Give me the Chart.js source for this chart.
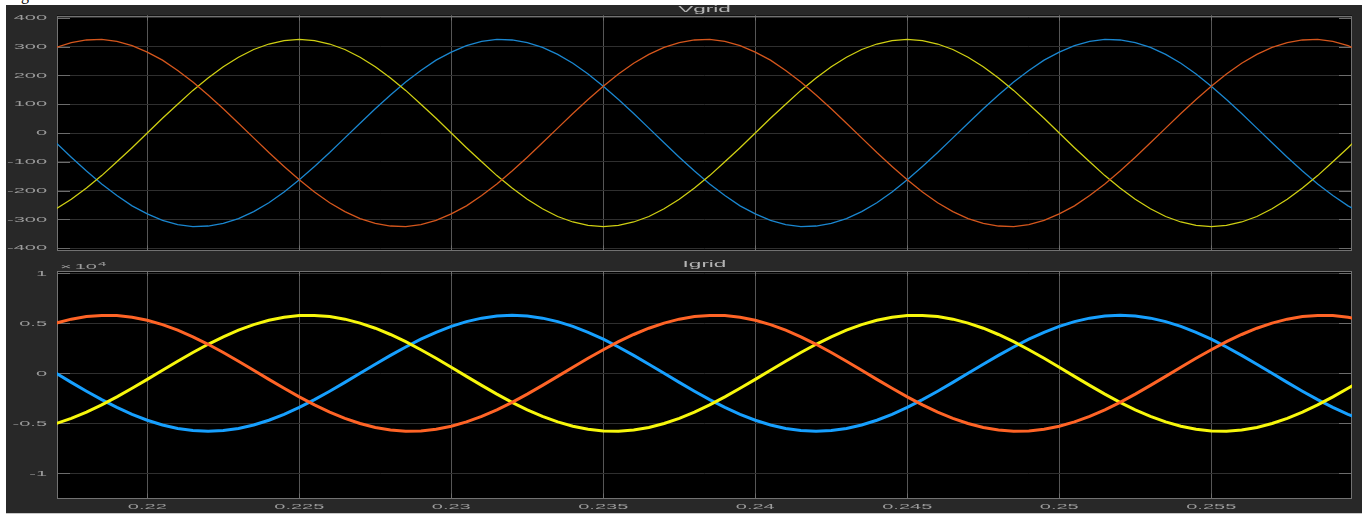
<!DOCTYPE html>
<html>
<head>
<meta charset="utf-8">
<script src="https://cdn.jsdelivr.net/npm/chart.js@4.4.0/dist/chart.umd.min.js"></script>
<style>
  html, body { margin: 0; padding: 0; background: #fff; width: 1362px; height: 517px; overflow: hidden; position: relative; }
  #cap { position: absolute; left: 21px; top: -14px; font: 16px "Liberation Serif", serif; color: #000; }
  #frame { position: absolute; left: 6px; top: 5px; width: 1356px; height: 508px; background: #282828; border-bottom: 1px solid #c8c8c8; }
  canvas { position: absolute; left: 0; }
  #cv { top: 0; }
  #ci { top: 258px; }
</style>
</head>
<body>
<div id="cap">g</div>
<div id="frame"></div>
<canvas id="cv" width="1362" height="258"></canvas>
<canvas id="ci" width="1362" height="259"></canvas>
<script>
// Sample times (s)
const tSec = [
  0.2170, 0.2175, 0.2180, 0.2185, 0.2190, 0.2195, 0.2200, 0.2205, 0.2210, 0.2215,
  0.2220, 0.2225, 0.2230, 0.2235, 0.2240, 0.2245, 0.2250, 0.2255, 0.2260, 0.2265,
  0.2270, 0.2275, 0.2280, 0.2285, 0.2290, 0.2295, 0.2300, 0.2305, 0.2310, 0.2315,
  0.2320, 0.2325, 0.2330, 0.2335, 0.2340, 0.2345, 0.2350, 0.2355, 0.2360, 0.2365,
  0.2370, 0.2375, 0.2380, 0.2385, 0.2390, 0.2395, 0.2400, 0.2405, 0.2410, 0.2415,
  0.2420, 0.2425, 0.2430, 0.2435, 0.2440, 0.2445, 0.2450, 0.2455, 0.2460, 0.2465,
  0.2470, 0.2475, 0.2480, 0.2485, 0.2490, 0.2495, 0.2500, 0.2505, 0.2510, 0.2515,
  0.2520, 0.2525, 0.2530, 0.2535, 0.2540, 0.2545, 0.2550, 0.2555, 0.2560, 0.2565,
  0.2570, 0.2575, 0.2580, 0.2585, 0.2590, 0.2595, 0.2600
];

// Grid voltages (V)
const vPhaseA = [
  297, 314, 323, 325, 318, 303, 281, 253, 217, 177, 132, 84, 34, -17, -68, -116, -162, -205, -242, -273,
  -297, -314, -323, -325, -318, -303, -281, -253, -217, -177, -132, -84, -34, 17, 68, 116, 162, 205, 242, 273,
  297, 314, 323, 325, 318, 303, 281, 253, 217, 177, 132, 84, 34, -17, -68, -116, -162, -205, -242, -273,
  -297, -314, -323, -325, -318, -303, -281, -253, -217, -177, -132, -84, -34, 17, 68, 116, 162, 205, 242, 273,
  297, 314, 323, 325, 318, 303, 281
];
const vPhaseB = [
  -263, -230, -191, -148, -100, -51, 0, 51, 100, 148, 191, 230, 263, 290, 309, 321, 325, 321, 309, 290,
  263, 230, 191, 148, 100, 51, 0, -51, -100, -148, -191, -230, -263, -290, -309, -321, -325, -321, -309, -290,
  -263, -230, -191, -148, -100, -51, 0, 51, 100, 148, 191, 230, 263, 290, 309, 321, 325, 321, 309, 290,
  263, 230, 191, 148, 100, 51, 0, -51, -100, -148, -191, -230, -263, -290, -309, -321, -325, -321, -309, -290,
  -263, -230, -191, -148, -100, -51, 0
];
const vPhaseC = [
  -34, -84, -132, -177, -217, -253, -281, -303, -318, -325, -323, -314, -297, -273, -242, -205, -162, -116, -68, -17,
  34, 84, 132, 177, 217, 253, 281, 303, 318, 325, 323, 314, 297, 273, 242, 205, 162, 116, 68, 17,
  -34, -84, -132, -177, -217, -253, -281, -303, -318, -325, -323, -314, -297, -273, -242, -205, -162, -116, -68, -17,
  34, 84, 132, 177, 217, 253, 281, 303, 318, 325, 323, 314, 297, 273, 242, 205, 162, 116, 68, 17,
  -34, -84, -132, -177, -217, -253, -281
];

// Grid currents (A)
const iPhaseA = [
  5023, 5415, 5673, 5792, 5768, 5602, 5299, 4864, 4310, 3650, 2900, 2079, 1206, 304, -606, -1501, -2359, -3159, -3881, -4507,
  -5023, -5415, -5673, -5792, -5768, -5602, -5299, -4864, -4310, -3650, -2900, -2079, -1206, -304, 606, 1501, 2359, 3159, 3881, 4507,
  5023, 5415, 5673, 5792, 5768, 5602, 5299, 4864, 4310, 3650, 2900, 2079, 1206, 304, -606, -1501, -2359, -3159, -3881, -4507,
  -5023, -5415, -5673, -5792, -5768, -5602, -5299, -4864, -4310, -3650, -2900, -2079, -1206, -304, 606, 1501, 2359, 3159, 3881, 4507,
  5023, 5415, 5673, 5792, 5768, 5602, 5299
];
const iPhaseB = [
  -5023, -4507, -3881, -3159, -2359, -1501, -606, 304, 1206, 2079, 2900, 3650, 4310, 4864, 5299, 5602, 5768, 5792, 5673, 5415,
  5023, 4507, 3881, 3159, 2359, 1501, 606, -304, -1206, -2079, -2900, -3650, -4310, -4864, -5299, -5602, -5768, -5792, -5673, -5415,
  -5023, -4507, -3881, -3159, -2359, -1501, -606, 304, 1206, 2079, 2900, 3650, 4310, 4864, 5299, 5602, 5768, 5792, 5673, 5415,
  5023, 4507, 3881, 3159, 2359, 1501, 606, -304, -1206, -2079, -2900, -3650, -4310, -4864, -5299, -5602, -5768, -5792, -5673, -5415,
  -5023, -4507, -3881, -3159, -2359, -1501, -606
];
const iPhaseC = [
  0, -907, -1792, -2633, -3409, -4101, -4692, -5168, -5516, -5729, -5800, -5729, -5516, -5168, -4692, -4101, -3409, -2633, -1792, -907,
  0, 907, 1792, 2633, 3409, 4101, 4692, 5168, 5516, 5729, 5800, 5729, 5516, 5168, 4692, 4101, 3409, 2633, 1792, 907,
  0, -907, -1792, -2633, -3409, -4101, -4692, -5168, -5516, -5729, -5800, -5729, -5516, -5168, -4692, -4101, -3409, -2633, -1792, -907,
  0, 907, 1792, 2633, 3409, 4101, 4692, 5168, 5516, 5729, 5800, 5729, 5516, 5168, 4692, 4101, 3409, 2633, 1792, 907,
  0, -907, -1792, -2633, -3409, -4101, -4692
];

// Axis ticks and their labels
const xTickValues = [0.22, 0.225, 0.23, 0.235, 0.24, 0.245, 0.25, 0.255];
const xTickLabels = ['0.22', '0.225', '0.23', '0.235', '0.24', '0.245', '0.25', '0.255'];
const vTickValues = [400, 300, 200, 100, 0, -100, -200, -300, -400];
const vTickLabels = ['400', '300', '200', '100', '0', '-100', '-200', '-300', '-400'];
const iTickValues = [10000, 5000, 0, -5000, -10000];
const iTickLabels = ['1', '0.5', '0', '-0.5', '-1'];

// Scope-style text is drawn horizontally stretched
const TEXT_SX = 2.5;
const FONT = '"Liberation Sans", Arial, sans-serif';

function stretchText(ctx, str, x, y, align, size, color) {
  ctx.save();
  ctx.font = size + 'px ' + FONT;
  ctx.fillStyle = color;
  ctx.textAlign = align;
  ctx.textBaseline = 'middle';
  ctx.translate(x, y);
  ctx.scale(TEXT_SX, 1);
  ctx.fillText(str, 0, 0);
  ctx.restore();
}
function textWidth(ctx, str, size) {
  ctx.save();
  ctx.font = size + 'px ' + FONT;
  const w = ctx.measureText(str).width * TEXT_SX;
  ctx.restore();
  return w;
}

// Black plot box, inner tick marks, title and tick labels
const scopeAxes = {
  id: 'scopeAxes',
  beforeDraw(chart) {
    const a = chart.chartArea, ctx = chart.ctx;
    ctx.save();
    ctx.fillStyle = '#000';
    ctx.fillRect(a.left, a.top, a.right - a.left, a.bottom - a.top);
    ctx.restore();
  },
  beforeDatasetsDraw(chart) {
    const a = chart.chartArea, ctx = chart.ctx;
    const xs = chart.scales.x, ys = chart.scales.y;
    ctx.save();
    ctx.strokeStyle = '#6c6c6c';
    ctx.lineWidth = 1;
    ctx.beginPath();
    ys.ticks.forEach(t => {
      const y = Math.round(ys.getPixelForValue(t.value)) + 0.5;
      ctx.moveTo(a.left, y); ctx.lineTo(a.left + 13, y);
      ctx.moveTo(a.right - 13, y); ctx.lineTo(a.right, y);
    });
    xs.ticks.forEach(t => {
      const x = Math.round(xs.getPixelForValue(t.value)) + 0.5;
      ctx.moveTo(x, a.bottom); ctx.lineTo(x, a.bottom - 5);
      ctx.moveTo(x, a.top); ctx.lineTo(x, a.top + 5);
    });
    ctx.stroke();
    ctx.strokeStyle = '#727272';
    ctx.strokeRect(Math.round(a.left) + 0.5, Math.round(a.top) + 0.5,
                   Math.round(a.right - a.left) - 1, Math.round(a.bottom - a.top) - 1);
    ctx.restore();
  },
  afterDraw(chart, args, opts) {
    const a = chart.chartArea, ctx = chart.ctx;
    const xs = chart.scales.x, ys = chart.scales.y;
    const labelColor = '#9c9c9c';
    stretchText(ctx, opts.title, (a.left + a.right) / 2, a.top - 6, 'center', 9, '#b4b4b4');
    ys.ticks.forEach((t, i) => {
      stretchText(ctx, opts.yLabels[i], 47, ys.getPixelForValue(t.value), 'right', 8, labelColor);
    });
    if (opts.xLabels) {
      xs.ticks.forEach((t, i) => {
        stretchText(ctx, opts.xLabels[i], xs.getPixelForValue(t.value), a.bottom + 8, 'center', 8, labelColor);
      });
    }
    if (opts.exponent) {
      let x = a.left + 3;
      const y = a.top - 4;
      stretchText(ctx, '\u00d7', x, y, 'left', 8, labelColor);
      x += textWidth(ctx, '\u00d7', 8) + 3;
      stretchText(ctx, '10', x, y, 'left', 8, labelColor);
      x += textWidth(ctx, '10', 8) + 1;
      stretchText(ctx, opts.exponent, x, y - 3, 'left', 6, labelColor);
    }
  }
};

function series(values, color, width) {
  return {
    data: tSec.map((t, i) => ({ x: t, y: values[i] })),
    borderColor: color,
    borderWidth: width,
    pointRadius: 0,
    tension: 0,
    fill: false
  };
}

function makeOptions(yMin, yMax, yTicks, padding, axesOpts) {
  return {
    responsive: false,
    animation: false,
    events: [],
    layout: { padding },
    plugins: { legend: { display: false }, tooltip: { enabled: false }, scopeAxes: axesOpts },
    scales: {
      x: {
        type: 'linear', min: 0.21703, max: 0.25963,
        afterBuildTicks: s => { s.ticks = xTickValues.map(v => ({ value: v })); },
        ticks: { display: false },
        grid: { color: '#565656', lineWidth: 1, drawTicks: false },
        border: { display: false }
      },
      y: {
        type: 'linear', min: yMin, max: yMax,
        afterBuildTicks: s => { s.ticks = yTicks.map(v => ({ value: v })); },
        ticks: { display: false },
        grid: { color: '#2f2f2f', lineWidth: 1, drawTicks: false },
        border: { display: false }
      }
    }
  };
}

new Chart(document.getElementById('cv'), {
  type: 'line',
  data: {
    datasets: [
      series(vPhaseA, '#d4561c', 1.3),
      series(vPhaseB, '#cfcf12', 1.3),
      series(vPhaseC, '#1a86cf', 1.3)
    ]
  },
  options: makeOptions(-408, 408, vTickValues,
    { left: 57, right: 10, top: 15.5, bottom: 7.5 },
    { title: 'Vgrid', yLabels: vTickLabels, xLabels: null, exponent: null }),
  plugins: [scopeAxes]
});

new Chart(document.getElementById('ci'), {
  type: 'line',
  data: {
    datasets: [
      series(iPhaseA, '#ff6426', 3),
      series(iPhaseB, '#f7f70c', 3),
      series(iPhaseC, '#17a0ff', 3)
    ]
  },
  options: makeOptions(-12520, 10230, iTickValues,
    { left: 57, right: 10, top: 13, bottom: 18.5 },
    { title: 'Igrid', yLabels: iTickLabels, xLabels: xTickLabels, exponent: '4' }),
  plugins: [scopeAxes]
});
</script>
</body>
</html>
